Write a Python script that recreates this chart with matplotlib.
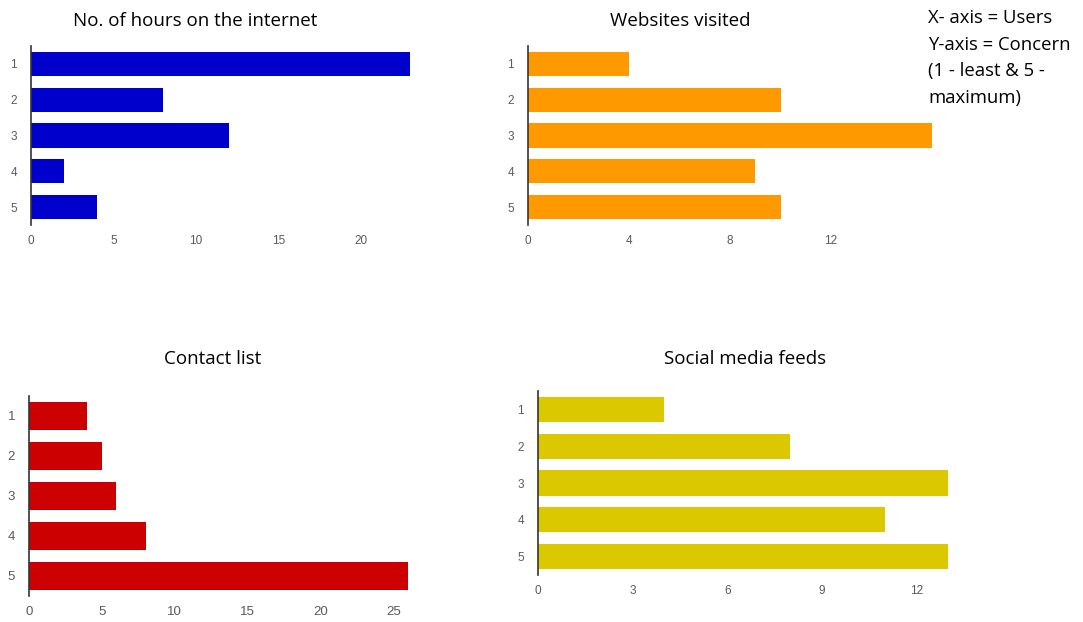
import matplotlib.pyplot as plt

# Concern level (1 - least, 5 - maximum) and number of users per level
levels = [1, 2, 3, 4, 5]
hours_online = [23, 8, 12, 2, 4]
websites_visited = [4, 10, 16, 9, 10]
contact_list = [4, 5, 6, 8, 26]
social_feeds = [4, 8, 13, 11, 13]

titles = ["No. of hours on the internet", "Websites visited",
          "Contact list", "Social media feeds"]
xticks = [[0, 5, 10, 15, 20], [0, 4, 8, 12],
          [0, 5, 10, 15, 20, 25], [0, 3, 6, 9, 12]]
colors = ["#0000cc", "#ff9900", "#cc0000", "#dcc800"]

fig = plt.figure(figsize=(10.83, 6.22), dpi=100)
W, H = 1083, 622

# axes boxes in pixels: left, top, right, bottom
boxes = [(31, 46, 410, 225), (528, 46, 932, 225),
         (29, 396, 408, 596), (538, 391, 948, 575)]
title_pos = [(195, 21), (680, 21), (213, 359), (745, 359)]
tick_size = [8.5, 8.5, 9.5, 8.5]
data = [hours_online, websites_visited, contact_list, social_feeds]

for i in range(4):
    l, t, r, b = boxes[i]
    ax = fig.add_axes([l / W, 1 - b / H, (r - l) / W, (b - t) / H])
    ax.barh(levels, data[i], height=0.68, color=colors[i])
    ax.set_ylim(5.5, 0.5)
    ax.set_xlim(0, max(data[i]))
    ax.set_xticks(xticks[i])
    ax.set_yticks(levels)
    for s in ["top", "right", "bottom"]:
        ax.spines[s].set_visible(False)
    ax.spines["left"].set_color("#333333")
    ax.spines["left"].set_linewidth(1.2)
    ax.tick_params(length=0, labelsize=tick_size[i], colors="#5a5a5a")
    ax.tick_params(axis="x", pad=7)
    ax.tick_params(axis="y", pad=10)
    for lab in ax.get_xticklabels() + ax.get_yticklabels():
        lab.set_family("Liberation Sans")
    fig.text(title_pos[i][0] / W, 1 - title_pos[i][1] / H, titles[i],
             ha="center", va="center", fontsize=13.5, family="Open Sans")

note = "X- axis = Users\nY-axis = Concern\n(1 - least & 5 -\nmaximum)"
fig.text(928 / W, 1 - 9 / H, note, ha="left", va="top", fontsize=13.3,
         family="Open Sans", linespacing=1.61)

fig.savefig("out.png", dpi=100)
